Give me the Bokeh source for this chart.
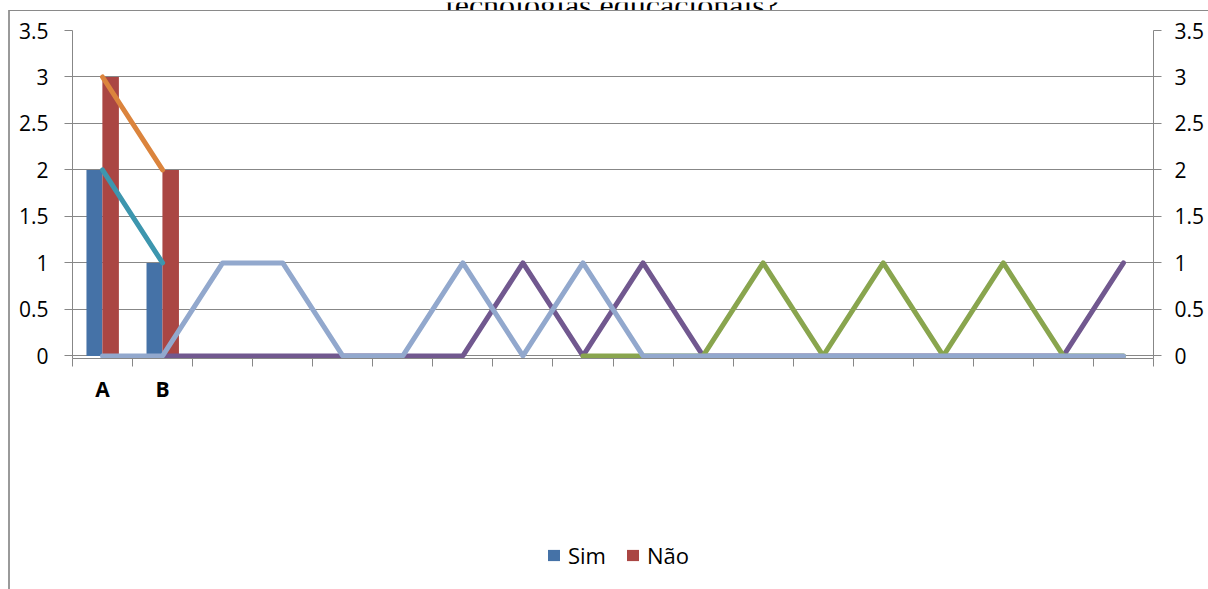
import numpy as np
from bokeh.plotting import figure
from bokeh.layouts import column
from bokeh.models import (ColumnDataSource, LinearAxis, FixedTicker, Legend, LegendItem,
                          NumeralTickFormatter, Label, Range1d)
from bokeh.transform import dodge
from bokeh.embed import file_html
from bokeh.resources import INLINE

# ---- data ----
categories = ["A", "B"] + [""] * 16
bar_categories = [0, 1]
sim = [2, 1]
nao = [3, 2]

orange = [3, 2] + [None] * 16
teal = [2, 1] + [None] * 16
purple = [None, 0, 0, 0, 0, 0, 0, 1, 0, 1, 0, 0, 0, 0, 0, 0, 0, 1]
green = [None] * 8 + [0, 0, 0, 1, 0, 1, 0, 1, 0, 0]
lightblue = [0, 0, 1, 1, 0, 0, 1, 0, 1, 0, 0, 0, 0, 0, 0, 0, 0, 0]

title_text = "tecnologias educacionais?"
y_ticks = [0, 0.5, 1, 1.5, 2, 2.5, 3, 3.5]

GRAY = "#878787"
FONT = "Open Sans"
SIM_COLOR = "#4572A7"
NAO_COLOR = "#AA4643"

n = len(categories)
xs = list(range(n))

# ---- top strip: the (cropped) title ----
H0 = 10
p0 = figure(width=1208, height=H0, output_backend="svg", toolbar_location=None,
            x_range=(-0.5, n - 0.5), y_range=Range1d(0, H0),
            x_axis_type=None, y_axis_type=None, min_border=0)
p0.outline_line_color = None
p0.background_fill_alpha = 0
p0.border_fill_alpha = 0
p0.grid.visible = False
p0.add_layout(Label(x=8.49, y=7.5, text=title_text, text_align="center",
                    text_baseline="alphabetic", text_font="Liberation Serif",
                    text_font_size="32px", text_color="black"))

# ---- main chart ----
H1 = 510
p = figure(width=1208, height=H1, output_backend="svg", toolbar_location=None,
           x_range=(-0.5, n - 0.5), y_range=(-0.028, 3.5),
           min_border_left=72, min_border_right=55, min_border_top=20, min_border_bottom=162)
p.styles = {
    "background-color": "white",
    "background-image": "linear-gradient(#8a8a8a, #8a8a8a), linear-gradient(#9a9a9a, #9a9a9a)",
    "background-size": "100% 1px, 2px 100%",
    "background-position": "9px 0px, 8px 0px",
    "background-repeat": "no-repeat",
}
p.outline_line_color = None
p.background_fill_color = "white"
p.border_fill_alpha = 0
p.xgrid.visible = False
p.ygrid.grid_line_color = GRAY
p.ygrid.grid_line_width = 1
p.ygrid.ticker = FixedTicker(ticks=y_ticks)

# x axis
xa = p.xaxis[0]
xa.ticker = FixedTicker(ticks=xs, minor_ticks=[i - 0.5 for i in range(n + 1)])
xa.major_label_overrides = {i: c for i, c in enumerate(categories)}
xa.major_tick_out = 0
xa.major_tick_in = 0
xa.minor_tick_out = 8
xa.minor_tick_in = 0
xa.minor_tick_line_color = GRAY
xa.axis_line_color = GRAY
xa.major_label_text_font = FONT
xa.major_label_text_font_style = "bold"
xa.major_label_text_font_size = "21px"
xa.major_label_text_color = "black"
xa.major_label_standoff = 8

def style_y(ax):
    ax.ticker = FixedTicker(ticks=y_ticks)
    ax.formatter = NumeralTickFormatter(format="0.[0]")
    ax.major_tick_out = 8
    ax.major_tick_in = 0
    ax.minor_tick_out = 0
    ax.minor_tick_in = 0
    ax.axis_line_color = GRAY
    ax.major_tick_line_color = GRAY
    ax.major_label_text_font = FONT
    ax.major_label_text_font_size = "21px"
    ax.major_label_text_color = "black"

style_y(p.yaxis[0])
p.yaxis[0].major_label_standoff = 16
ra = LinearAxis()
style_y(ra)
ra.major_label_standoff = 13
p.add_layout(ra, "right")

# bars
bsrc = ColumnDataSource(dict(x=bar_categories, sim=sim, nao=nao))
p.vbar(x=dodge("x", -0.135, range=p.x_range), top="sim", width=0.265, source=bsrc,
       fill_color=SIM_COLOR, line_color=None)
p.vbar(x=dodge("x", 0.135, range=p.x_range), top="nao", width=0.275, source=bsrc,
       fill_color=NAO_COLOR, line_color=None)

def to_arr(v):
    return np.array([np.nan if a is None else a for a in v], dtype=float)

for series, color in [(orange, "#DB843D"), (teal, "#3D96AE"), (purple, "#71588F"),
                      (green, "#89A54E"), (lightblue, "#92A8CD")]:
    p.line(x=xs, y=to_arr(series), line_color=color, line_width=5,
           line_join="round", line_cap="round")

# ---- legend strip (same series, bars kept out of its view) ----
H2 = 589 - H0 - H1
p2 = figure(width=1208, height=H2, output_backend="svg", toolbar_location=None,
            x_range=(-0.5, n - 0.5), y_range=Range1d(10, 11),
            x_axis_type=None, y_axis_type=None, min_border=0)
p2.styles = {
    "background-color": "white",
    "background-image": "linear-gradient(#9a9a9a, #9a9a9a)",
    "background-size": "2px 100%",
    "background-position": "8px 0px",
    "background-repeat": "no-repeat",
}
p2.outline_line_color = None
p2.background_fill_alpha = 0
p2.border_fill_alpha = 0
p2.grid.visible = False
l_sim = p2.vbar(x="x", top="sim", width=0.265, source=bsrc, fill_color=SIM_COLOR, line_color=None)
l_nao = p2.vbar(x="x", top="nao", width=0.275, source=bsrc, fill_color=NAO_COLOR, line_color=None)

legend = Legend(items=[LegendItem(label="Sim", renderers=[l_sim]),
                       LegendItem(label="Não", renderers=[l_nao])],
                orientation="horizontal", location=(474, 19),
                glyph_width=15, glyph_height=14, label_standoff=7, spacing=19,
                padding=0, margin=0, border_line_color=None, background_fill_alpha=0,
                label_text_font=FONT, label_text_font_size="22px", label_text_color="black")
p2.add_layout(legend)

layout = column(p0, p, p2, spacing=0)
open("out.html", "w").write(file_html(layout, INLINE))
